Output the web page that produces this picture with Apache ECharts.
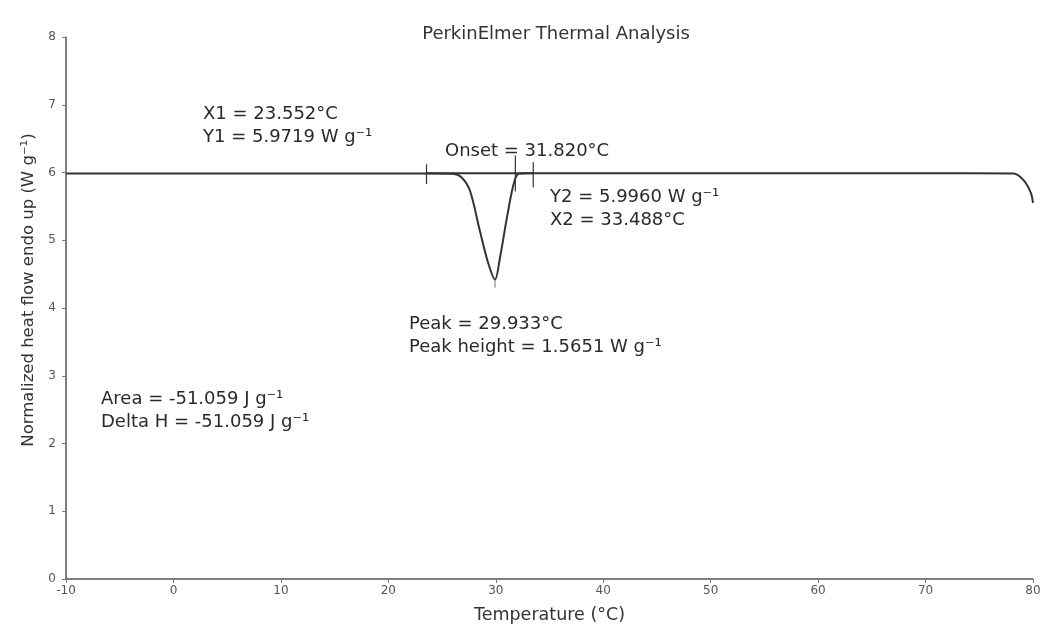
<!DOCTYPE html>
<html>
<head>
<meta charset="utf-8">
<script src="https://cdn.jsdelivr.net/npm/echarts@6/dist/echarts.min.js"></script>
<style>
  html, body { margin: 0; padding: 0; background: #fff; }
  #chart { width: 1059px; height: 626px; }
</style>
</head>
<body>
<div id="chart"></div>
<script>
  // DSC trace: temperature (°C) and heat flow (W g-1)
  var temps = [-10, 0, 10, 20, 24, 26, 26.8, 27.6, 28.5, 29.3, 29.93, 30.4, 31.0, 31.6, 32.1, 33, 40, 50, 60, 70, 78.2, 79.1, 79.8, 80];
  var flow = [5.985, 5.985, 5.985, 5.985, 5.985, 5.98, 5.93, 5.73, 5.15, 4.66, 4.42, 4.75, 5.30, 5.79, 5.98, 5.99, 5.99, 5.99, 5.99, 5.99, 5.985, 5.89, 5.70, 5.55];

  // onset construction: X1, onset, X2 and the tick heights
  var markX = [23.552, 31.820, 33.488];
  var markTop = [6.12, 6.25, 6.15];
  var markBottom = [5.83, 5.72, 5.78];
  var baseY = 5.99;

  var curve = temps.map(function (t, i) { return [t, flow[i]]; });

  var lineColor = '#333';
  var series = [{
    type: 'line',
    data: curve,
    smooth: 0.3,
    showSymbol: false,
    lineStyle: { color: lineColor, width: 2 },
    z: 3
  }, {
    type: 'line',
    data: [[markX[0], baseY], [markX[2], baseY]],
    showSymbol: false,
    lineStyle: { color: lineColor, width: 2 }
  }, {
    // small drop line under the peak
    type: 'line',
    data: [[29.933, 4.42], [29.933, 4.30]],
    showSymbol: false,
    lineStyle: { color: '#777', width: 1 }
  }];
  markX.forEach(function (x, i) {
    series.push({
      type: 'line',
      data: [[x, markBottom[i]], [x, markTop[i]]],
      showSymbol: false,
      lineStyle: { color: lineColor, width: 1.2 }
    });
  });

  var FONT = '"DejaVu Sans", "Liberation Sans", sans-serif';
  var txt = function (x, y, s) {
    return {
      type: 'text', x: x, y: y,
      style: { text: s, font: '18px ' + FONT, fill: '#2a2a2a', verticalAlign: 'middle' }
    };
  };

  var myChart = echarts.init(document.getElementById('chart'));
  var option = {
    animation: false,
    backgroundColor: '#fff',
    title: {
      text: 'PerkinElmer Thermal Analysis',
      left: 551, top: 20, textAlign: 'center',
      textStyle: { fontFamily: 'DejaVu Sans', fontSize: 18, fontWeight: 'normal', color: '#333' }
    },
    grid: { left: 66, right: 26, top: 37, bottom: 47, outerBoundsMode: 'none', containLabel: false },
    xAxis: {
      type: 'value', min: -10, max: 80, interval: 10,
      name: 'Temperature (°C)', nameLocation: 'middle', nameGap: 27,
      nameTextStyle: { fontFamily: 'DejaVu Sans', fontSize: 17.5, color: '#333' },
      axisLine: { onZero: false, lineStyle: { color: '#555', width: 1.5 } },
      axisTick: { show: true, length: 4, lineStyle: { color: '#777' } },
      axisLabel: { fontFamily: 'DejaVu Sans', fontSize: 12, color: '#555', margin: 6 },
      splitLine: { show: false }
    },
    yAxis: {
      type: 'value', min: 0, max: 8, interval: 1,
      name: 'Normalized heat flow endo up (W g⁻¹)', nameLocation: 'middle', nameGap: 26,
      nameTextStyle: { fontFamily: 'DejaVu Sans', fontSize: 16.5, color: '#333', padding: [0, 0, 0, 36] },
      axisLine: { show: true, onZero: false, lineStyle: { color: '#555', width: 1.5 } },
      axisTick: { show: true, length: 4, lineStyle: { color: '#777' } },
      axisLabel: { fontFamily: 'DejaVu Sans', fontSize: 12, color: '#555', margin: 10 },
      splitLine: { show: false }
    },
    series: series,
    graphic: [
      txt(203, 114, 'X1 = 23.552°C'),
      txt(203, 137, 'Y1 = 5.9719 W g⁻¹'),
      txt(445, 151, 'Onset = 31.820°C'),
      txt(550, 197, 'Y2 = 5.9960 W g⁻¹'),
      txt(550, 220, 'X2 = 33.488°C'),
      txt(409, 324, 'Peak = 29.933°C'),
      txt(409, 347, 'Peak height = 1.5651 W g⁻¹'),
      txt(101, 399, 'Area = -51.059 J g⁻¹'),
      txt(101, 422, 'Delta H = -51.059 J g⁻¹')
    ]
  };
  myChart.setOption(option);
</script>
</body>
</html>
